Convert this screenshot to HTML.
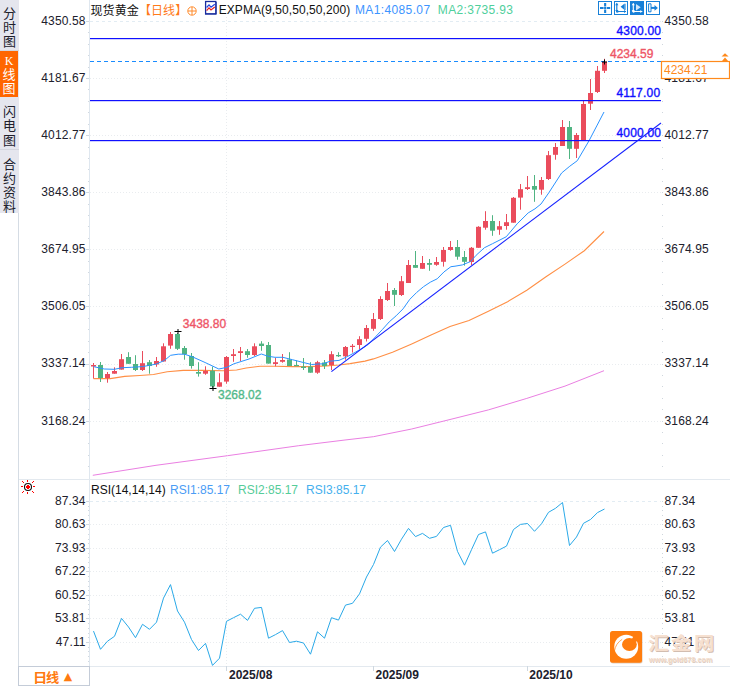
<!DOCTYPE html>
<html><head><meta charset="utf-8"><title>现货黄金 日线</title>
<style>
html,body{margin:0;padding:0;background:#fff;}
body{width:730px;height:686px;position:relative;overflow:hidden;font-family:"Liberation Sans","Noto Sans CJK SC",sans-serif;font-size:12px;color:#20202c;}
svg{position:absolute;left:0;top:0;}
.t{position:absolute;white-space:nowrap;line-height:14px;height:14px;}
.yl{left:29.7px;width:56px;text-align:right;letter-spacing:0.15px;}
.yr{left:664.5px;letter-spacing:0.15px;}
.side{position:absolute;left:0;top:0;width:19px;height:213px;background:#e5e6ee;}
.tab{position:absolute;left:0;width:19px;text-align:center;font-family:"Noto Sans CJK SC","WenQuanYi Zen Hei",sans-serif;font-size:13px;line-height:14.3px;color:#20202c;}
.tab span{display:block;}
.pl{color:#1010ff;-webkit-text-stroke:0.35px #1010ff;letter-spacing:0.2px;}
.xl{font-weight:bold;top:668px;color:#20202c;}
</style></head><body>
<div class="side">
<div class="tab" style="top:0;height:50px;border-bottom:1px solid #d4d6de"><div style="padding-top:5.5px"><span>分</span><span>时</span><span>图</span></div></div>
<div class="tab" style="top:51px;height:46px;width:18px;background:#ff6600;color:#fff"><div style="padding-top:3.5px"><span style="font-family:'Liberation Serif',serif;font-size:12px;line-height:12.5px">K</span><span style="line-height:13.6px">线</span><span>图</span></div></div>
<div class="tab" style="top:97px;height:52px;border-bottom:1px solid #d4d6de"><div style="padding-top:7px"><span>闪</span><span>电</span><span>图</span></div></div>
<div class="tab" style="top:150px;height:63px"><div style="padding-top:6.5px"><span>合</span><span>约</span><span>资</span><span>料</span></div></div>
</div>
<div class="t yl" style="top:13.8px">4350.58</div>
<div class="t yr" style="top:13.8px">4350.58</div>
<div class="t yl" style="top:70.9px">4181.67</div>
<div class="t yr" style="top:70.9px">4181.67</div>
<div class="t yl" style="top:128.0px">4012.77</div>
<div class="t yr" style="top:128.0px">4012.77</div>
<div class="t yl" style="top:185.1px">3843.86</div>
<div class="t yr" style="top:185.1px">3843.86</div>
<div class="t yl" style="top:242.2px">3674.95</div>
<div class="t yr" style="top:242.2px">3674.95</div>
<div class="t yl" style="top:299.3px">3506.05</div>
<div class="t yr" style="top:299.3px">3506.05</div>
<div class="t yl" style="top:356.4px">3337.14</div>
<div class="t yr" style="top:356.4px">3337.14</div>
<div class="t yl" style="top:413.5px">3168.24</div>
<div class="t yr" style="top:413.5px">3168.24</div>
<div class="t yl" style="top:493.8px">87.34</div>
<div class="t yr" style="top:493.8px">87.34</div>
<div class="t yl" style="top:517.3px">80.63</div>
<div class="t yr" style="top:517.3px">80.63</div>
<div class="t yl" style="top:540.8px">73.93</div>
<div class="t yr" style="top:540.8px">73.93</div>
<div class="t yl" style="top:564.3px">67.22</div>
<div class="t yr" style="top:564.3px">67.22</div>
<div class="t yl" style="top:587.8px">60.52</div>
<div class="t yr" style="top:587.8px">60.52</div>
<div class="t yl" style="top:611.3px">53.81</div>
<div class="t yr" style="top:611.3px">53.81</div>
<div class="t yl" style="top:634.8px">47.11</div>
<div class="t yr" style="top:634.8px">47.11</div>
<svg width="730" height="686" viewBox="0 0 730 686">
<rect x="18" y="213" width="1" height="473" fill="#d5dce4"/>
<rect x="89" y="0" width="1" height="666" fill="#dfe7ef"/>
<rect x="19" y="479" width="711" height="1" fill="#e3e9ef"/>
<rect x="19" y="666" width="711" height="1" fill="#e3e9ef"/>
<line x1="90" x2="661" y1="21.5" y2="21.5" stroke="#e2ecf3" stroke-width="1" stroke-dasharray="3 3"/>
<rect x="86" y="21.0" width="3" height="1" fill="#d0d8e0"/>
<line x1="90" x2="661" y1="78.5" y2="78.5" stroke="#e9ecef" stroke-width="1" stroke-dasharray="1 2"/>
<rect x="86" y="78.0" width="3" height="1" fill="#d0d8e0"/>
<line x1="90" x2="661" y1="135.5" y2="135.5" stroke="#e9ecef" stroke-width="1" stroke-dasharray="1 2"/>
<rect x="86" y="135.0" width="3" height="1" fill="#d0d8e0"/>
<line x1="90" x2="661" y1="192.5" y2="192.5" stroke="#e9ecef" stroke-width="1" stroke-dasharray="1 2"/>
<rect x="86" y="192.0" width="3" height="1" fill="#d0d8e0"/>
<line x1="90" x2="661" y1="249.5" y2="249.5" stroke="#e9ecef" stroke-width="1" stroke-dasharray="1 2"/>
<rect x="86" y="249.0" width="3" height="1" fill="#d0d8e0"/>
<line x1="90" x2="661" y1="306.5" y2="306.5" stroke="#e9ecef" stroke-width="1" stroke-dasharray="1 2"/>
<rect x="86" y="306.0" width="3" height="1" fill="#d0d8e0"/>
<line x1="90" x2="661" y1="364.5" y2="364.5" stroke="#e9ecef" stroke-width="1" stroke-dasharray="1 2"/>
<rect x="86" y="364.0" width="3" height="1" fill="#d0d8e0"/>
<line x1="90" x2="661" y1="421.5" y2="421.5" stroke="#e9ecef" stroke-width="1" stroke-dasharray="1 2"/>
<rect x="86" y="421.0" width="3" height="1" fill="#d0d8e0"/>
<line x1="90" x2="661" y1="501.5" y2="501.5" stroke="#e2ecf3" stroke-width="1" stroke-dasharray="3 3"/>
<rect x="86" y="501.0" width="3" height="1" fill="#d0d8e0"/>
<line x1="90" x2="661" y1="524.5" y2="524.5" stroke="#e9ecef" stroke-width="1" stroke-dasharray="1 2"/>
<rect x="86" y="524.0" width="3" height="1" fill="#d0d8e0"/>
<line x1="90" x2="661" y1="548.5" y2="548.5" stroke="#e9ecef" stroke-width="1" stroke-dasharray="1 2"/>
<rect x="86" y="548.0" width="3" height="1" fill="#d0d8e0"/>
<line x1="90" x2="661" y1="571.5" y2="571.5" stroke="#e9ecef" stroke-width="1" stroke-dasharray="1 2"/>
<rect x="86" y="571.0" width="3" height="1" fill="#d0d8e0"/>
<line x1="90" x2="661" y1="595.5" y2="595.5" stroke="#e9ecef" stroke-width="1" stroke-dasharray="1 2"/>
<rect x="86" y="595.0" width="3" height="1" fill="#d0d8e0"/>
<line x1="90" x2="661" y1="618.5" y2="618.5" stroke="#e9ecef" stroke-width="1" stroke-dasharray="1 2"/>
<rect x="86" y="618.0" width="3" height="1" fill="#d0d8e0"/>
<line x1="90" x2="661" y1="642.5" y2="642.5" stroke="#e9ecef" stroke-width="1" stroke-dasharray="1 2"/>
<rect x="86" y="642.0" width="3" height="1" fill="#d0d8e0"/>
<rect x="88" y="21" width="1" height="1" fill="#d0d8e0"/>
<rect x="662" y="21" width="1" height="1" fill="#cfd6dd"/>
<rect x="88" y="32" width="1" height="1" fill="#d0d8e0"/>
<rect x="662" y="32" width="1" height="1" fill="#cfd6dd"/>
<rect x="88" y="44" width="1" height="1" fill="#d0d8e0"/>
<rect x="662" y="44" width="1" height="1" fill="#cfd6dd"/>
<rect x="88" y="55" width="1" height="1" fill="#d0d8e0"/>
<rect x="662" y="55" width="1" height="1" fill="#cfd6dd"/>
<rect x="88" y="67" width="1" height="1" fill="#d0d8e0"/>
<rect x="662" y="67" width="1" height="1" fill="#cfd6dd"/>
<rect x="88" y="78" width="1" height="1" fill="#d0d8e0"/>
<rect x="662" y="78" width="1" height="1" fill="#cfd6dd"/>
<rect x="88" y="89" width="1" height="1" fill="#d0d8e0"/>
<rect x="662" y="89" width="1" height="1" fill="#cfd6dd"/>
<rect x="88" y="101" width="1" height="1" fill="#d0d8e0"/>
<rect x="662" y="101" width="1" height="1" fill="#cfd6dd"/>
<rect x="88" y="112" width="1" height="1" fill="#d0d8e0"/>
<rect x="662" y="112" width="1" height="1" fill="#cfd6dd"/>
<rect x="88" y="124" width="1" height="1" fill="#d0d8e0"/>
<rect x="662" y="124" width="1" height="1" fill="#cfd6dd"/>
<rect x="88" y="135" width="1" height="1" fill="#d0d8e0"/>
<rect x="662" y="135" width="1" height="1" fill="#cfd6dd"/>
<rect x="88" y="147" width="1" height="1" fill="#d0d8e0"/>
<rect x="662" y="147" width="1" height="1" fill="#cfd6dd"/>
<rect x="88" y="158" width="1" height="1" fill="#d0d8e0"/>
<rect x="662" y="158" width="1" height="1" fill="#cfd6dd"/>
<rect x="88" y="169" width="1" height="1" fill="#d0d8e0"/>
<rect x="662" y="169" width="1" height="1" fill="#cfd6dd"/>
<rect x="88" y="181" width="1" height="1" fill="#d0d8e0"/>
<rect x="662" y="181" width="1" height="1" fill="#cfd6dd"/>
<rect x="88" y="192" width="1" height="1" fill="#d0d8e0"/>
<rect x="662" y="192" width="1" height="1" fill="#cfd6dd"/>
<rect x="88" y="204" width="1" height="1" fill="#d0d8e0"/>
<rect x="662" y="204" width="1" height="1" fill="#cfd6dd"/>
<rect x="88" y="215" width="1" height="1" fill="#d0d8e0"/>
<rect x="662" y="215" width="1" height="1" fill="#cfd6dd"/>
<rect x="88" y="226" width="1" height="1" fill="#d0d8e0"/>
<rect x="662" y="226" width="1" height="1" fill="#cfd6dd"/>
<rect x="88" y="238" width="1" height="1" fill="#d0d8e0"/>
<rect x="662" y="238" width="1" height="1" fill="#cfd6dd"/>
<rect x="88" y="249" width="1" height="1" fill="#d0d8e0"/>
<rect x="662" y="249" width="1" height="1" fill="#cfd6dd"/>
<rect x="88" y="261" width="1" height="1" fill="#d0d8e0"/>
<rect x="662" y="261" width="1" height="1" fill="#cfd6dd"/>
<rect x="88" y="272" width="1" height="1" fill="#d0d8e0"/>
<rect x="662" y="272" width="1" height="1" fill="#cfd6dd"/>
<rect x="88" y="284" width="1" height="1" fill="#d0d8e0"/>
<rect x="662" y="284" width="1" height="1" fill="#cfd6dd"/>
<rect x="88" y="295" width="1" height="1" fill="#d0d8e0"/>
<rect x="662" y="295" width="1" height="1" fill="#cfd6dd"/>
<rect x="88" y="306" width="1" height="1" fill="#d0d8e0"/>
<rect x="662" y="306" width="1" height="1" fill="#cfd6dd"/>
<rect x="88" y="318" width="1" height="1" fill="#d0d8e0"/>
<rect x="662" y="318" width="1" height="1" fill="#cfd6dd"/>
<rect x="88" y="329" width="1" height="1" fill="#d0d8e0"/>
<rect x="662" y="329" width="1" height="1" fill="#cfd6dd"/>
<rect x="88" y="341" width="1" height="1" fill="#d0d8e0"/>
<rect x="662" y="341" width="1" height="1" fill="#cfd6dd"/>
<rect x="88" y="352" width="1" height="1" fill="#d0d8e0"/>
<rect x="662" y="352" width="1" height="1" fill="#cfd6dd"/>
<rect x="88" y="364" width="1" height="1" fill="#d0d8e0"/>
<rect x="662" y="364" width="1" height="1" fill="#cfd6dd"/>
<rect x="88" y="375" width="1" height="1" fill="#d0d8e0"/>
<rect x="662" y="375" width="1" height="1" fill="#cfd6dd"/>
<rect x="88" y="386" width="1" height="1" fill="#d0d8e0"/>
<rect x="662" y="386" width="1" height="1" fill="#cfd6dd"/>
<rect x="88" y="398" width="1" height="1" fill="#d0d8e0"/>
<rect x="662" y="398" width="1" height="1" fill="#cfd6dd"/>
<rect x="88" y="409" width="1" height="1" fill="#d0d8e0"/>
<rect x="662" y="409" width="1" height="1" fill="#cfd6dd"/>
<rect x="88" y="421" width="1" height="1" fill="#d0d8e0"/>
<rect x="662" y="421" width="1" height="1" fill="#cfd6dd"/>
<rect x="88" y="432" width="1" height="1" fill="#d0d8e0"/>
<rect x="662" y="432" width="1" height="1" fill="#cfd6dd"/>
<rect x="88" y="443" width="1" height="1" fill="#d0d8e0"/>
<rect x="662" y="443" width="1" height="1" fill="#cfd6dd"/>
<rect x="88" y="455" width="1" height="1" fill="#d0d8e0"/>
<rect x="662" y="455" width="1" height="1" fill="#cfd6dd"/>
<rect x="88" y="466" width="1" height="1" fill="#d0d8e0"/>
<rect x="662" y="466" width="1" height="1" fill="#cfd6dd"/>
<rect x="88" y="501" width="1" height="1" fill="#d0d8e0"/>
<rect x="662" y="501" width="1" height="1" fill="#cfd6dd"/>
<rect x="88" y="506" width="1" height="1" fill="#d0d8e0"/>
<rect x="662" y="506" width="1" height="1" fill="#cfd6dd"/>
<rect x="88" y="510" width="1" height="1" fill="#d0d8e0"/>
<rect x="662" y="510" width="1" height="1" fill="#cfd6dd"/>
<rect x="88" y="515" width="1" height="1" fill="#d0d8e0"/>
<rect x="662" y="515" width="1" height="1" fill="#cfd6dd"/>
<rect x="88" y="520" width="1" height="1" fill="#d0d8e0"/>
<rect x="662" y="520" width="1" height="1" fill="#cfd6dd"/>
<rect x="88" y="524" width="1" height="1" fill="#d0d8e0"/>
<rect x="662" y="524" width="1" height="1" fill="#cfd6dd"/>
<rect x="88" y="529" width="1" height="1" fill="#d0d8e0"/>
<rect x="662" y="529" width="1" height="1" fill="#cfd6dd"/>
<rect x="88" y="534" width="1" height="1" fill="#d0d8e0"/>
<rect x="662" y="534" width="1" height="1" fill="#cfd6dd"/>
<rect x="88" y="539" width="1" height="1" fill="#d0d8e0"/>
<rect x="662" y="539" width="1" height="1" fill="#cfd6dd"/>
<rect x="88" y="543" width="1" height="1" fill="#d0d8e0"/>
<rect x="662" y="543" width="1" height="1" fill="#cfd6dd"/>
<rect x="88" y="548" width="1" height="1" fill="#d0d8e0"/>
<rect x="662" y="548" width="1" height="1" fill="#cfd6dd"/>
<rect x="88" y="553" width="1" height="1" fill="#d0d8e0"/>
<rect x="662" y="553" width="1" height="1" fill="#cfd6dd"/>
<rect x="88" y="557" width="1" height="1" fill="#d0d8e0"/>
<rect x="662" y="557" width="1" height="1" fill="#cfd6dd"/>
<rect x="88" y="562" width="1" height="1" fill="#d0d8e0"/>
<rect x="662" y="562" width="1" height="1" fill="#cfd6dd"/>
<rect x="88" y="567" width="1" height="1" fill="#d0d8e0"/>
<rect x="662" y="567" width="1" height="1" fill="#cfd6dd"/>
<rect x="88" y="571" width="1" height="1" fill="#d0d8e0"/>
<rect x="662" y="571" width="1" height="1" fill="#cfd6dd"/>
<rect x="88" y="576" width="1" height="1" fill="#d0d8e0"/>
<rect x="662" y="576" width="1" height="1" fill="#cfd6dd"/>
<rect x="88" y="581" width="1" height="1" fill="#d0d8e0"/>
<rect x="662" y="581" width="1" height="1" fill="#cfd6dd"/>
<rect x="88" y="586" width="1" height="1" fill="#d0d8e0"/>
<rect x="662" y="586" width="1" height="1" fill="#cfd6dd"/>
<rect x="88" y="590" width="1" height="1" fill="#d0d8e0"/>
<rect x="662" y="590" width="1" height="1" fill="#cfd6dd"/>
<rect x="88" y="595" width="1" height="1" fill="#d0d8e0"/>
<rect x="662" y="595" width="1" height="1" fill="#cfd6dd"/>
<rect x="88" y="600" width="1" height="1" fill="#d0d8e0"/>
<rect x="662" y="600" width="1" height="1" fill="#cfd6dd"/>
<rect x="88" y="604" width="1" height="1" fill="#d0d8e0"/>
<rect x="662" y="604" width="1" height="1" fill="#cfd6dd"/>
<rect x="88" y="609" width="1" height="1" fill="#d0d8e0"/>
<rect x="662" y="609" width="1" height="1" fill="#cfd6dd"/>
<rect x="88" y="614" width="1" height="1" fill="#d0d8e0"/>
<rect x="662" y="614" width="1" height="1" fill="#cfd6dd"/>
<rect x="88" y="618" width="1" height="1" fill="#d0d8e0"/>
<rect x="662" y="618" width="1" height="1" fill="#cfd6dd"/>
<rect x="88" y="623" width="1" height="1" fill="#d0d8e0"/>
<rect x="662" y="623" width="1" height="1" fill="#cfd6dd"/>
<rect x="88" y="628" width="1" height="1" fill="#d0d8e0"/>
<rect x="662" y="628" width="1" height="1" fill="#cfd6dd"/>
<rect x="88" y="633" width="1" height="1" fill="#d0d8e0"/>
<rect x="662" y="633" width="1" height="1" fill="#cfd6dd"/>
<rect x="88" y="637" width="1" height="1" fill="#d0d8e0"/>
<rect x="662" y="637" width="1" height="1" fill="#cfd6dd"/>
<rect x="88" y="642" width="1" height="1" fill="#d0d8e0"/>
<rect x="662" y="642" width="1" height="1" fill="#cfd6dd"/>
<rect x="88" y="647" width="1" height="1" fill="#d0d8e0"/>
<rect x="662" y="647" width="1" height="1" fill="#cfd6dd"/>
<rect x="88" y="651" width="1" height="1" fill="#d0d8e0"/>
<rect x="662" y="651" width="1" height="1" fill="#cfd6dd"/>
<rect x="88" y="656" width="1" height="1" fill="#d0d8e0"/>
<rect x="662" y="656" width="1" height="1" fill="#cfd6dd"/>
<rect x="88" y="661" width="1" height="1" fill="#d0d8e0"/>
<rect x="662" y="661" width="1" height="1" fill="#cfd6dd"/>
<line x1="226.5" x2="226.5" y1="17" y2="479" stroke="#e9ecef" stroke-width="1" stroke-dasharray="1 2"/>
<line x1="226.5" x2="226.5" y1="480" y2="666" stroke="#e9ecef" stroke-width="1" stroke-dasharray="1 2"/>
<rect x="226.0" y="666" width="1" height="5" fill="#cfd8e0"/>
<rect x="373.0" y="666" width="1" height="5" fill="#cfd8e0"/>
<rect x="527.0" y="666" width="1" height="5" fill="#cfd8e0"/>
<polyline points="92.8,475.3 156.0,465.3 227.5,455.7 298.7,445.7 345.0,440.0 373.4,436.7 411.7,429.0 450.0,419.5 488.4,409.9 526.8,398.4 565.0,386.1 604.0,370.7" fill="none" stroke="#ea7fe2" stroke-width="1"/>
<polyline points="93.5,378.6 110.3,378.6 124.7,376.4 139.8,375.5 153.5,374.5 167.2,371.8 183.2,370.4 202.4,370.4 223.0,370.7 236.6,370.0 246.2,368.0 260.0,366.3 275.0,366.3 292.4,366.6 310.0,366.6 326.6,365.9 339.0,365.0 350.0,363.6 365.0,361.1 373.4,358.9 392.5,352.3 411.7,343.9 431.0,335.0 450.0,326.6 469.0,320.5 488.4,311.3 507.6,301.7 526.8,290.2 546.0,276.8 565.0,264.1 584.3,250.7 604.0,231.5" fill="none" stroke="#ff8f45" stroke-width="1.1"/>
<rect x="93.0" y="363.0" width="1" height="15.5" fill="#ea4c5c"/>
<rect x="91.0" y="365.0" width="5" height="1.5" fill="#ea4c5c"/>
<rect x="100.0" y="362.0" width="1" height="20.0" fill="#50b482"/>
<rect x="98.0" y="365.0" width="5" height="13.0" fill="#50b482"/>
<rect x="107.0" y="372.0" width="1" height="10.7" fill="#ea4c5c"/>
<rect x="105.0" y="374.0" width="5" height="4.0" fill="#ea4c5c"/>
<rect x="114.0" y="367.3" width="1" height="6.4" fill="#ea4c5c"/>
<rect x="112.0" y="371.0" width="5" height="2.7" fill="#ea4c5c"/>
<rect x="121.0" y="354.0" width="1" height="15.6" fill="#ea4c5c"/>
<rect x="119.0" y="359.2" width="5" height="10.4" fill="#ea4c5c"/>
<rect x="128.0" y="352.2" width="1" height="11.6" fill="#50b482"/>
<rect x="126.0" y="357.0" width="5" height="6.8" fill="#50b482"/>
<rect x="135.0" y="355.2" width="1" height="15.8" fill="#50b482"/>
<rect x="133.0" y="364.0" width="5" height="6.0" fill="#50b482"/>
<rect x="142.0" y="351.0" width="1" height="20.0" fill="#ea4c5c"/>
<rect x="140.0" y="363.2" width="5" height="6.8" fill="#ea4c5c"/>
<rect x="149.0" y="360.0" width="1" height="13.7" fill="#50b482"/>
<rect x="147.0" y="362.2" width="5" height="3.8" fill="#50b482"/>
<rect x="156.0" y="357.0" width="1" height="9.8" fill="#ea4c5c"/>
<rect x="154.0" y="361.0" width="5" height="3.5" fill="#ea4c5c"/>
<rect x="163.0" y="343.3" width="1" height="18.2" fill="#ea4c5c"/>
<rect x="161.0" y="346.3" width="5" height="15.2" fill="#ea4c5c"/>
<rect x="170.0" y="332.0" width="1" height="16.8" fill="#ea4c5c"/>
<rect x="168.0" y="334.0" width="5" height="11.6" fill="#ea4c5c"/>
<rect x="177.0" y="333.0" width="1" height="17.0" fill="#50b482"/>
<rect x="175.0" y="334.0" width="5" height="14.8" fill="#50b482"/>
<rect x="184.0" y="346.0" width="1" height="13.7" fill="#50b482"/>
<rect x="182.0" y="348.0" width="5" height="6.2" fill="#50b482"/>
<rect x="191.0" y="353.0" width="1" height="15.6" fill="#50b482"/>
<rect x="189.0" y="356.0" width="5" height="10.0" fill="#50b482"/>
<rect x="198.0" y="362.2" width="1" height="14.4" fill="#50b482"/>
<rect x="196.0" y="372.0" width="5" height="1.7" fill="#50b482"/>
<rect x="205.0" y="366.3" width="1" height="8.5" fill="#ea4c5c"/>
<rect x="203.0" y="371.0" width="5" height="2.7" fill="#ea4c5c"/>
<rect x="212.0" y="366.6" width="1" height="21.4" fill="#50b482"/>
<rect x="210.0" y="370.7" width="5" height="15.7" fill="#50b482"/>
<rect x="219.0" y="373.2" width="1" height="13.5" fill="#ea4c5c"/>
<rect x="217.0" y="382.3" width="5" height="4.4" fill="#ea4c5c"/>
<rect x="226.0" y="356.0" width="1" height="27.7" fill="#ea4c5c"/>
<rect x="224.0" y="357.0" width="5" height="24.6" fill="#ea4c5c"/>
<rect x="233.0" y="349.0" width="1" height="12.8" fill="#ea4c5c"/>
<rect x="231.0" y="354.2" width="5" height="1.8" fill="#ea4c5c"/>
<rect x="240.0" y="347.0" width="1" height="14.0" fill="#ea4c5c"/>
<rect x="238.0" y="351.2" width="5" height="1.8" fill="#ea4c5c"/>
<rect x="247.0" y="349.0" width="1" height="8.7" fill="#50b482"/>
<rect x="245.0" y="351.2" width="5" height="3.8" fill="#50b482"/>
<rect x="254.0" y="343.3" width="1" height="12.7" fill="#ea4c5c"/>
<rect x="252.0" y="346.3" width="5" height="8.7" fill="#ea4c5c"/>
<rect x="261.0" y="341.2" width="1" height="9.6" fill="#50b482"/>
<rect x="259.0" y="343.6" width="5" height="2.4" fill="#50b482"/>
<rect x="268.0" y="342.0" width="1" height="21.6" fill="#50b482"/>
<rect x="266.0" y="345.0" width="5" height="18.6" fill="#50b482"/>
<rect x="275.0" y="358.0" width="1" height="8.3" fill="#ea4c5c"/>
<rect x="273.0" y="362.2" width="5" height="1.8" fill="#ea4c5c"/>
<rect x="282.0" y="354.0" width="1" height="8.7" fill="#ea4c5c"/>
<rect x="280.0" y="360.0" width="5" height="1.8" fill="#ea4c5c"/>
<rect x="289.0" y="352.2" width="1" height="13.8" fill="#50b482"/>
<rect x="287.0" y="359.5" width="5" height="6.5" fill="#50b482"/>
<rect x="296.0" y="360.4" width="1" height="5.6" fill="#50b482"/>
<rect x="294.0" y="365.0" width="5" height="1.2" fill="#50b482"/>
<rect x="303.0" y="358.0" width="1" height="12.0" fill="#50b482"/>
<rect x="301.0" y="366.6" width="5" height="1.4" fill="#50b482"/>
<rect x="310.0" y="362.2" width="1" height="10.5" fill="#50b482"/>
<rect x="308.0" y="366.6" width="5" height="6.1" fill="#50b482"/>
<rect x="317.0" y="360.8" width="1" height="13.0" fill="#ea4c5c"/>
<rect x="315.0" y="362.2" width="5" height="10.5" fill="#ea4c5c"/>
<rect x="324.0" y="360.0" width="1" height="9.0" fill="#50b482"/>
<rect x="322.0" y="362.5" width="5" height="3.5" fill="#50b482"/>
<rect x="331.0" y="351.2" width="1" height="18.8" fill="#ea4c5c"/>
<rect x="329.0" y="354.2" width="5" height="10.8" fill="#ea4c5c"/>
<rect x="338.0" y="352.2" width="1" height="4.8" fill="#50b482"/>
<rect x="336.0" y="355.0" width="5" height="1.3" fill="#50b482"/>
<rect x="345.0" y="346.0" width="1" height="13.7" fill="#ea4c5c"/>
<rect x="343.0" y="347.0" width="5" height="9.3" fill="#ea4c5c"/>
<rect x="352.0" y="344.0" width="1" height="8.6" fill="#ea4c5c"/>
<rect x="350.0" y="345.8" width="5" height="1.2" fill="#ea4c5c"/>
<rect x="359.0" y="336.2" width="1" height="13.3" fill="#ea4c5c"/>
<rect x="357.0" y="339.2" width="5" height="5.8" fill="#ea4c5c"/>
<rect x="366.0" y="325.0" width="1" height="16.5" fill="#ea4c5c"/>
<rect x="364.0" y="328.0" width="5" height="10.8" fill="#ea4c5c"/>
<rect x="373.0" y="313.0" width="1" height="17.8" fill="#ea4c5c"/>
<rect x="371.0" y="319.0" width="5" height="9.8" fill="#ea4c5c"/>
<rect x="380.0" y="296.2" width="1" height="23.8" fill="#ea4c5c"/>
<rect x="378.0" y="299.0" width="5" height="20.0" fill="#ea4c5c"/>
<rect x="387.0" y="283.0" width="1" height="18.0" fill="#ea4c5c"/>
<rect x="385.0" y="291.0" width="5" height="9.0" fill="#ea4c5c"/>
<rect x="394.0" y="288.0" width="1" height="18.0" fill="#50b482"/>
<rect x="392.0" y="290.0" width="5" height="4.8" fill="#50b482"/>
<rect x="401.0" y="276.0" width="1" height="20.0" fill="#ea4c5c"/>
<rect x="399.0" y="281.2" width="5" height="13.8" fill="#ea4c5c"/>
<rect x="408.0" y="260.0" width="1" height="23.0" fill="#ea4c5c"/>
<rect x="406.0" y="265.0" width="5" height="18.0" fill="#ea4c5c"/>
<rect x="415.0" y="251.0" width="1" height="16.8" fill="#50b482"/>
<rect x="413.0" y="265.0" width="5" height="2.8" fill="#50b482"/>
<rect x="422.0" y="256.0" width="1" height="12.8" fill="#ea4c5c"/>
<rect x="420.0" y="263.0" width="5" height="5.8" fill="#ea4c5c"/>
<rect x="429.0" y="259.0" width="1" height="11.8" fill="#50b482"/>
<rect x="427.0" y="263.0" width="5" height="1.8" fill="#50b482"/>
<rect x="436.0" y="257.0" width="1" height="8.8" fill="#ea4c5c"/>
<rect x="434.0" y="262.0" width="5" height="2.8" fill="#ea4c5c"/>
<rect x="443.0" y="247.0" width="1" height="19.6" fill="#ea4c5c"/>
<rect x="441.0" y="250.0" width="5" height="11.8" fill="#ea4c5c"/>
<rect x="450.0" y="241.0" width="1" height="9.8" fill="#ea4c5c"/>
<rect x="448.0" y="247.0" width="5" height="3.0" fill="#ea4c5c"/>
<rect x="457.0" y="240.0" width="1" height="19.7" fill="#50b482"/>
<rect x="455.0" y="247.0" width="5" height="9.7" fill="#50b482"/>
<rect x="464.0" y="251.0" width="1" height="14.6" fill="#50b482"/>
<rect x="462.0" y="257.0" width="5" height="4.8" fill="#50b482"/>
<rect x="471.0" y="247.0" width="1" height="18.0" fill="#ea4c5c"/>
<rect x="469.0" y="247.8" width="5" height="14.2" fill="#ea4c5c"/>
<rect x="478.0" y="226.2" width="1" height="21.6" fill="#ea4c5c"/>
<rect x="476.0" y="226.8" width="5" height="21.0" fill="#ea4c5c"/>
<rect x="485.0" y="211.2" width="1" height="18.5" fill="#ea4c5c"/>
<rect x="483.0" y="221.0" width="5" height="6.7" fill="#ea4c5c"/>
<rect x="492.0" y="215.2" width="1" height="20.6" fill="#50b482"/>
<rect x="490.0" y="221.0" width="5" height="9.7" fill="#50b482"/>
<rect x="499.0" y="221.0" width="1" height="13.8" fill="#ea4c5c"/>
<rect x="497.0" y="226.2" width="5" height="3.5" fill="#ea4c5c"/>
<rect x="506.0" y="214.0" width="1" height="15.7" fill="#ea4c5c"/>
<rect x="504.0" y="222.2" width="5" height="3.8" fill="#ea4c5c"/>
<rect x="513.0" y="197.0" width="1" height="25.7" fill="#ea4c5c"/>
<rect x="511.0" y="197.8" width="5" height="24.9" fill="#ea4c5c"/>
<rect x="520.0" y="184.0" width="1" height="25.7" fill="#ea4c5c"/>
<rect x="518.0" y="189.2" width="5" height="8.4" fill="#ea4c5c"/>
<rect x="527.0" y="176.0" width="1" height="14.0" fill="#ea4c5c"/>
<rect x="525.0" y="187.2" width="5" height="1.8" fill="#ea4c5c"/>
<rect x="534.0" y="175.0" width="1" height="26.8" fill="#50b482"/>
<rect x="532.0" y="186.0" width="5" height="3.7" fill="#50b482"/>
<rect x="541.0" y="177.0" width="1" height="17.7" fill="#ea4c5c"/>
<rect x="539.0" y="180.0" width="5" height="9.7" fill="#ea4c5c"/>
<rect x="548.0" y="151.0" width="1" height="29.0" fill="#ea4c5c"/>
<rect x="546.0" y="155.2" width="5" height="23.8" fill="#ea4c5c"/>
<rect x="555.0" y="143.0" width="1" height="16.7" fill="#ea4c5c"/>
<rect x="553.0" y="147.0" width="5" height="7.8" fill="#ea4c5c"/>
<rect x="562.0" y="120.0" width="1" height="26.0" fill="#ea4c5c"/>
<rect x="560.0" y="127.0" width="5" height="19.0" fill="#ea4c5c"/>
<rect x="569.0" y="121.0" width="1" height="38.0" fill="#50b482"/>
<rect x="567.0" y="127.0" width="5" height="21.8" fill="#50b482"/>
<rect x="576.0" y="133.0" width="1" height="25.0" fill="#ea4c5c"/>
<rect x="574.0" y="135.0" width="5" height="13.8" fill="#ea4c5c"/>
<rect x="583.0" y="101.0" width="1" height="39.0" fill="#ea4c5c"/>
<rect x="581.0" y="104.0" width="5" height="36.0" fill="#ea4c5c"/>
<rect x="590.0" y="79.0" width="1" height="31.0" fill="#ea4c5c"/>
<rect x="588.0" y="93.0" width="5" height="10.7" fill="#ea4c5c"/>
<rect x="597.0" y="66.0" width="1" height="27.0" fill="#ea4c5c"/>
<rect x="595.0" y="70.8" width="5" height="21.2" fill="#ea4c5c"/>
<rect x="604.0" y="58.8" width="1" height="14.2" fill="#ea4c5c"/>
<rect x="602.0" y="61.8" width="5" height="9.0" fill="#ea4c5c"/>
<polyline points="93.5,366.6 104.2,369.0 114.5,369.3 122.0,367.7 131.6,367.3 142.5,366.6 156.2,364.1 164.5,360.4 170.6,355.3 178.2,354.2 184.6,354.2 192.8,357.0 205.1,362.5 218.8,369.0 227.0,367.3 233.9,363.8 249.0,359.0 261.3,354.0 268.2,356.3 275.0,357.3 282.8,357.3 292.4,359.7 303.4,362.5 311.6,364.5 322.5,363.8 330.8,361.1 339.0,360.4 347.2,356.7 355.4,352.2 365.0,346.7 368.7,344.0 382.4,329.5 389.2,321.9 396.1,315.8 403.0,308.9 409.8,299.3 416.6,292.5 423.5,286.7 430.3,282.2 437.2,278.8 444.0,271.9 450.9,266.7 455.0,266.2 462.4,264.9 470.6,261.5 476.1,255.3 484.3,247.8 492.5,243.7 506.2,236.8 517.2,223.8 528.2,212.9 535.0,208.8 541.0,204.0 549.2,192.2 561.6,173.0 569.8,166.2 577.3,160.7 589.0,140.8 597.2,125.1 604.0,112.0" fill="none" stroke="#2b93ff" stroke-width="1"/>
<rect x="90" y="38" width="571" height="1.2" fill="#1010ff"/>
<rect x="90" y="100" width="571" height="1.2" fill="#1010ff"/>
<rect x="90" y="140" width="571" height="1.2" fill="#1010ff"/>
<line x1="90" x2="661" y1="61.5" y2="61.5" stroke="#1a8cff" stroke-width="1.1" stroke-dasharray="4 3"/>
<line x1="331.4" y1="371.6" x2="661" y2="123" stroke="#1420ff" stroke-width="1.1"/>
<path d="M174.5 331.5H181.5M178 329.0V334.0" stroke="#000" stroke-width="1" fill="none"/>
<path d="M209.5 388.5H216.5M213 386.0V391.0" stroke="#000" stroke-width="1" fill="none"/>
<path d="M602.0 62H607.0M604.5 59.5V64.5" stroke="#000" stroke-width="1" fill="none"/>
<polyline points="93.5,631.1 100.5,649.3 107.5,641.2 114.5,636.3 121.5,618.4 128.5,627.0 135.5,637.7 142.5,624.3 149.5,629.3 156.5,622.2 163.5,598.1 170.5,584.6 177.5,611.0 184.5,622.2 191.5,639.5 198.5,650.5 205.5,643.4 212.5,665.4 219.5,658.2 226.5,621.3 233.5,617.7 240.5,614.2 247.5,620.4 254.5,608.3 261.5,607.4 268.5,638.2 275.5,634.6 282.5,630.6 289.5,642.5 296.5,641.2 303.5,643.0 310.5,654.2 317.5,631.8 324.5,638.2 331.5,617.7 338.5,620.1 345.5,605.1 352.5,603.3 359.5,593.9 366.5,577.0 373.5,564.5 380.5,547.1 387.5,540.5 394.5,551.5 401.5,539.2 408.5,528.4 415.5,536.6 422.5,533.4 429.5,538.3 436.5,536.4 443.5,527.5 450.5,525.3 457.5,551.4 464.5,565.2 471.5,549.7 478.5,534.5 485.5,531.9 492.5,553.2 499.5,549.7 506.5,546.1 513.5,529.5 520.5,524.4 527.5,523.5 534.5,531.3 541.5,523.8 548.5,512.3 555.5,508.3 562.5,502.5 569.5,545.5 576.5,537.0 583.5,523.3 590.5,519.5 597.5,512.6 604.5,509.0" fill="none" stroke="#2aa9e8" stroke-width="1" stroke-linejoin="round"/>
<rect x="661.5" y="61.5" width="68" height="17" fill="#fff" stroke="#ff8a1c" stroke-width="1.2"/>
<path d="M721.5 56.6L725 53.2L728.6 56.6ZM721.8 61.2L725 57.6L728.3 61.2Z" fill="#ff8a1c"/>
<circle cx="192" cy="11" r="4.2" fill="none" stroke="#ff8a2a" stroke-width="1"/><path d="M188 11H196M192 7V15" stroke="#ff8a2a" stroke-width="1"/>
<rect x="205.6" y="1.5" width="10.2" height="12.3" fill="#fff" stroke="#182c9e" stroke-width="1.3"/><path d="M205 14.2H216.3V2" stroke="#182c9e" stroke-width="0.8" fill="none"/><path d="M206.6 7.5L209 4.8L211 7.2L214.8 4.2" stroke="#2344e0" stroke-width="1.2" fill="none"/><path d="M206.6 10.6L209 7.8L211 10L214.8 7" stroke="#e82020" stroke-width="1.2" fill="none"/>
<rect x="598.5" y="1.5" width="13" height="13" fill="#fff" stroke="#1780d8" stroke-width="1"/>
<path d="M600 7h3.6v2h-3.6zM606.8 7h3.4v2h-3.4zM604.1 3h2.1v3h-2.1zM604.1 10h2.1v3h-2.1zM604.1 6.6h2.1v2.9h-2.1z" fill="#1780d8"/>
<rect x="614.5" y="1.5" width="13" height="13" fill="#fff" stroke="#1780d8" stroke-width="1"/>
<path d="M616.8 3.5V12.5M616 11.5H626" stroke="#1780d8" stroke-width="1.2" fill="none"/><path d="M615.2 5.2L616.8 2.8L618.4 5.2ZM615.2 10L616.8 12.2L618.4 10ZM618.2 10L616 11.5L618.2 13ZM624 10L626.2 11.5L624 13Z" fill="#1780d8"/><path d="M624.9 3.8V9.9" stroke="#1780d8" stroke-width="1.3"/><path d="M620.6 6.8L624 4V9.6Z" fill="#1780d8"/>
<rect x="630" y="1" width="14" height="14" fill="#1780d8"/>
<path d="M633.3 3.5V12.5M632.3 11.5H642.3" stroke="#fff" stroke-width="1.1" fill="none"/><path d="M631.7 5.2L633.3 3L634.9 5.2ZM631.7 10L633.3 12L634.9 10ZM634.3 10.1L632.3 11.5L634.3 12.9ZM640.3 10.1L642.3 11.5L640.3 12.9Z" fill="#fff"/><path d="M636 4L640.7 7.2L636 10.4Z" fill="#cfe6fa"/>
<rect x="646.5" y="1.5" width="13" height="13" fill="#fff" stroke="#1780d8" stroke-width="1"/>
<path d="M648.6 3.8H651V11.8H648.6Z" fill="none" stroke="#1780d8" stroke-width="1"/><path d="M651 6.9h4v2h-4z" fill="#1780d8"/><path d="M654.5 5L657.9 7.9L654.5 10.8Z" fill="#1780d8"/>
<circle cx="28" cy="487" r="3.5" fill="#fff" stroke="#111" stroke-width="1.1"/>
<path d="M27 485h2v4h-2zM26 486h4v2h-4z" fill="#ff0000"/>
<path d="M27 480h1v2h-1zM27 492h1v2h-1zM21 486h2v1h-2zM33 486h2v1h-2zM22 481h1v1h-1zM23 482h1v1h-1zM33 481h1v1h-1zM32 482h1v1h-1zM22 492h1v1h-1zM23 491h1v1h-1zM33 492h1v1h-1zM32 491h1v1h-1z" fill="#ff0000"/>
<rect x="610.6" y="631.6" width="32" height="32" rx="2.5" fill="#c9a58a" opacity="0.55"/>
<rect x="610" y="631" width="32" height="31.8" rx="2.5" fill="#ff7d0e"/>
<circle cx="626.2" cy="646.8" r="12" fill="#fff"/>
<ellipse cx="629.4" cy="644.5" rx="7.4" ry="6.5" fill="#ff7d0e"/>
<path d="M631.6 639.6L634.4 635L639 640.4L634.1 642.6Z" fill="#ff7d0e"/>
<path d="M614.4 651.2Q615.6 643.4 622.2 639.3" stroke="#ff7d0e" stroke-width="0.7" fill="none"/>
</svg>
<div class="t" style="left:90.5px;top:2.5px;font-family:'Noto Sans CJK SC',sans-serif;color:#111;letter-spacing:0.1px">现货黄金<span style="color:#ff7a1a">【日线】</span></div>
<div class="t" style="left:218.7px;top:2.5px;color:#111;letter-spacing:0.07px">EXPMA(9,50,50,50,200)</div>
<div class="t" style="left:354.9px;top:2.5px;color:#3d94ff;letter-spacing:0.38px">MA1:4085.07</div>
<div class="t" style="left:437.8px;top:2.5px;color:#4fcf9c;letter-spacing:0.38px">MA2:3735.93</div>
<div class="t pl" style="left:616.4px;top:23.5px">4300.00</div>
<div class="t pl" style="left:616.4px;top:85.5px">4117.00</div>
<div class="t pl" style="left:616.4px;top:125.5px">4000.00</div>
<div class="t" style="left:610px;top:46.5px;color:#ee5566;-webkit-text-stroke:0.35px #ee5566">4234.59</div>
<div class="t" style="left:182.8px;top:316.5px;color:#ee5566;-webkit-text-stroke:0.35px #ee5566">3438.80</div>
<div class="t" style="left:218px;top:388px;color:#52b98a;-webkit-text-stroke:0.35px #52b98a">3268.02</div>
<div class="t" style="left:664px;top:62.5px;color:#ff8a1c">4234.21</div>
<div class="t" style="left:91px;top:483px;color:#111">RSI(14,14,14)</div>
<div class="t" style="left:170px;top:483px;color:#4a9cf5">RSI1:85.17</div>
<div class="t" style="left:238px;top:483px;color:#55cc99">RSI2:85.17</div>
<div class="t" style="left:306px;top:483px;color:#45b0ee">RSI3:85.17</div>
<div class="t xl" style="left:229px">2025/08</div>
<div class="t xl" style="left:375.5px">2025/09</div>
<div class="t xl" style="left:529.3px">2025/10</div>
<div style="position:absolute;left:18px;top:666px;width:71.5px;height:20px;border:1px solid #c4ccd8;box-sizing:border-box;"></div>
<div class="t" style="left:32.8px;top:669.3px;color:#ff7a10;font-weight:bold;font-size:12.7px;line-height:15px;height:15px;font-family:'Noto Sans CJK SC',sans-serif;transform:scaleX(1.13);transform-origin:0 0">日</div>
<div class="t" style="left:46.3px;top:669.3px;color:#ff7a10;font-weight:bold;font-size:12.7px;line-height:15px;height:15px;font-family:'Noto Sans CJK SC',sans-serif;transform:scaleX(1.04);transform-origin:0 0">线</div>
<div class="t" style="left:63.8px;top:668.6px;color:#ff7a10;font-size:11px;line-height:15px;height:15px;font-family:'DejaVu Sans',sans-serif">▲</div>
<div class="t" style="left:648.2px;top:629.6px;height:26px;line-height:26px;font-size:20.3px;font-weight:bold;font-family:'Noto Sans CJK SC',sans-serif;color:#f6e0d0;letter-spacing:2.6px;text-shadow:1px 1px 0.5px #d2bdb0;transform:scaleY(0.9);transform-origin:0 4.4px">汇金网</div>
<div class="t" style="left:649px;top:655.3px;height:10px;line-height:10px;font-size:7.3px;font-weight:bold;color:#f3dccb;text-shadow:0.6px 0.6px 0.5px #d9c8bd">www.gold678.com</div>
</body></html>
